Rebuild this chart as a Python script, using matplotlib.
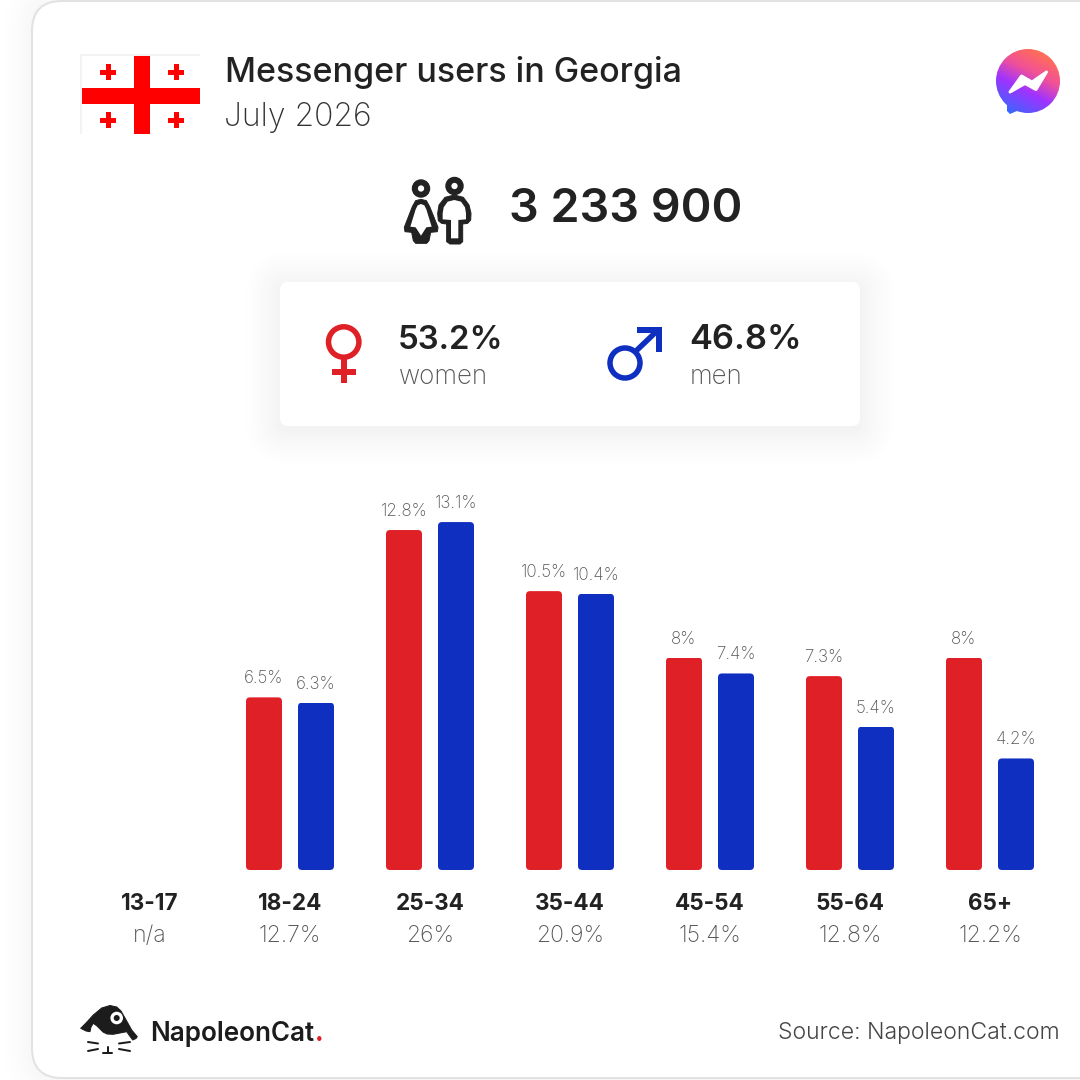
import matplotlib
matplotlib.use("Agg")
import matplotlib.pyplot as plt
import numpy as np
from matplotlib.colors import LinearSegmentedColormap
from matplotlib.patches import Circle, FancyBboxPatch, Polygon, Rectangle

age_groups = ["13-17", "18-24", "25-34", "35-44", "45-54", "55-64", "65+"]
age_shares = ["n/a", "12.7%", "26%", "20.9%", "15.4%", "12.8%", "12.2%"]
women = [np.nan, 6.5, 12.8, 10.5, 8, 7.3, 8]
men = [np.nan, 6.3, 13.1, 10.4, 7.4, 5.4, 4.2]

title = "Messenger users in Georgia"
subtitle = "July 2026"
total_users = "3 233 900"
women_share = "53.2%"
men_share = "46.8%"
source = "Source: NapoleonCat.com"

RED = "#e02027"
BLUE = "#0f2fc0"
DARK = "#222222"
GREY = "#555555"
FLAG_RED = "#ff0000"
FONT = "Inter"

plt.rcParams["font.family"] = [FONT, "DejaVu Sans"]

DPI = 100
PT = 72 / DPI  # one pixel in points


def add_shadow(ax, x0, y0, x1, y1, radius, spread, steps, zorder, dy=0):
    # stacked transparent rounded boxes stand in for a blur, one grey level each
    for i in range(steps, 0, -1):
        grow = spread * (i / steps) ** 1.3
        ax.add_patch(FancyBboxPatch(
            (x0 - grow, y0 - grow + dy), x1 - x0 + 2 * grow, y1 - y0 + 2 * grow,
            boxstyle=f"round,pad=0,rounding_size={radius + grow}",
            fc="black", ec="none", alpha=0.004, zorder=zorder,
        ))


def label(ax, x, y, text, size, weight=400, color=DARK, ha="left"):
    return ax.text(x, y, text, fontsize=size * PT, fontweight=weight, color=color,
                   ha=ha, va="baseline", zorder=5)


def draw_flag(ax):
    ax.add_patch(Rectangle((80, 54), 120, 80, fc="#f3f3f3", ec="none", zorder=3))
    ax.add_patch(Rectangle((82, 56), 118, 78, fc="white", ec="none", zorder=3))
    ax.add_patch(Rectangle((134, 56), 16, 78, fc=FLAG_RED, ec="none", zorder=4))
    ax.add_patch(Rectangle((82, 88), 118, 16, fc=FLAG_RED, ec="none", zorder=4))
    for cx, cy in [(108, 72), (176, 72), (108, 120), (176, 120)]:
        ax.add_patch(Rectangle((cx - 8, cy - 2.5), 16, 5, fc=FLAG_RED, ec="none", zorder=4))
        ax.add_patch(Rectangle((cx - 2.5, cy - 8), 5, 16, fc=FLAG_RED, ec="none", zorder=4))


def draw_logo(ax):
    cmap = LinearSegmentedColormap.from_list(
        "messenger", ["#0a84ff", "#5a55ff", "#a033ff", "#f0509a", "#ff6a5e", "#ff8a4c"])
    n = 160
    gx, gy = np.meshgrid(np.linspace(0, 1, n), np.linspace(0, 1, n))
    grad = (0.35 * gx + 0.65 * (1 - gy))
    grad = (grad - grad.min()) / (grad.max() - grad.min())
    extent = (992, 1064, 116, 46)
    shapes = [
        Circle((1028, 81), 32, transform=ax.transData),
        Polygon([(1007, 100), (1007, 111), (1010, 114), (1024, 108)], closed=True, transform=ax.transData),
    ]
    for shape in shapes:
        im = ax.imshow(grad, cmap=cmap, extent=extent, origin="upper", aspect="auto",
                       zorder=3, interpolation="bilinear")
        im.set_clip_path(shape)
    bolt = [(1010, 92), (1021.5, 76), (1032, 82), (1046.5, 72), (1036, 89.5), (1025, 83.5)]
    ax.add_patch(Polygon(bolt, closed=True, fc="white", ec="white", lw=3 * PT,
                         joinstyle="round", zorder=4))


def draw_people(ax):
    def to_px(points):
        # outlines were traced on a crop at 3x from (395, 170)
        return [(395 + x / 3, 170 + y / 3) for x, y in points]

    woman_outer = [(78, 88), (62, 92), (52, 110), (28, 172), (30, 185), (50, 187), (55, 212), (62, 220),
                   (95, 220), (102, 212), (107, 187), (127, 185), (129, 172), (104, 110), (94, 92)]
    woman_inner = [(78, 102), (68, 106), (62, 118), (46, 170), (62, 172), (78, 197), (94, 172),
                   (110, 170), (94, 118), (88, 106)]
    man_outer = [(178, 75), (150, 82), (132, 105), (128, 130), (130, 152), (140, 160), (155, 162), (155, 215),
                 (165, 222), (195, 222), (203, 215), (203, 162), (218, 160), (227, 150), (228, 130),
                 (222, 105), (205, 82)]
    man_inner = [(178, 90), (158, 95), (146, 112), (143, 130), (143, 148), (168, 150), (168, 205),
                 (190, 205), (190, 150), (213, 148), (213, 130), (210, 112), (198, 95)]
    for outer, inner in [(woman_outer, woman_inner), (man_outer, man_inner)]:
        ax.add_patch(Polygon(to_px(outer), closed=True, fc=DARK, ec=DARK, lw=1 * PT,
                             joinstyle="round", zorder=4))
        ax.add_patch(Polygon(to_px(inner), closed=True, fc="white", ec="none", zorder=5))
    ax.add_patch(Circle((421, 188.5), 6.2, fc="white", ec=DARK, lw=6 * PT, zorder=4))
    ax.add_patch(Circle((454.5, 186), 6.2, fc="white", ec=DARK, lw=6 * PT, zorder=4))


def draw_gender_marks(ax):
    lw = 5.5 * PT
    ax.add_patch(Circle((343.7, 342), 15.2, fc="none", ec=RED, lw=lw, zorder=4))
    ax.add_patch(Rectangle((341, 359), 6, 24, fc=RED, ec="none", zorder=4))
    ax.add_patch(Rectangle((332, 369), 24, 6, fc=RED, ec="none", zorder=4))

    ax.add_patch(Circle((625, 363), 15, fc="none", ec=BLUE, lw=lw, zorder=4))
    ax.plot([636, 658], [351, 330], color=BLUE, lw=lw, solid_capstyle="butt", zorder=4)
    ax.add_patch(Polygon([(637, 327), (662, 327), (662, 352), (656, 352), (656, 333), (637, 333)],
                         closed=True, fc=BLUE, ec="none", zorder=4))


def draw_brand(ax):
    hat = [(80.7, 1028.3), (86, 1023), (93.3, 1015), (101.7, 1008), (110, 1005.5), (116.7, 1007), (121, 1011),
           (125, 1018), (131.7, 1030), (137.3, 1036.7), (136, 1038.5), (132.7, 1040), (129, 1035), (126.7, 1031.7),
           (120, 1033), (113.3, 1034.3), (107, 1034), (103, 1032), (97, 1026), (93.3, 1023.3), (91, 1027),
           (90, 1031.7), (86, 1031)]
    ax.add_patch(Polygon(hat, closed=True, fc="#1c1c1c", ec="#1c1c1c", lw=1 * PT,
                         joinstyle="round", zorder=4))
    ax.add_patch(Circle((116.7, 1018), 6.3, fc="white", ec="none", zorder=5))
    ax.add_patch(Circle((116.7, 1018), 3, fc="#1c1c1c", ec="none", zorder=6))
    whiskers = [((88, 1042), (98, 1043.5)), ((88, 1051), (98, 1049)),
                ((119, 1043.5), (130, 1042)), ((119, 1049), (130, 1051)),
                ((107.5, 1047), (107.5, 1053)), ((103, 1053), (112, 1053))]
    for (x0, y0), (x1, y1) in whiskers:
        ax.plot([x0, x1], [y0, y1], color="#1c1c1c", lw=2 * PT, solid_capstyle="round", zorder=4)
    label(ax, 150, 1041, "NapoleonCat", 26, 600, "#1c1c1c")
    label(ax, 314.5, 1041, ".", 26, 700, RED)


def draw_bars(fig):
    # axes spans px 80..1060 / 470..870, group 0 sits at px 150, groups are 140 px apart
    ax = fig.add_axes([80 / 1080, 1 - 870 / 1080, 980 / 1080, 400 / 1080], facecolor="none", zorder=6)
    ax.set_xlim(-0.5, 6.5)
    ax.set_ylim(0, 400 / 26.56)
    x = np.arange(len(age_groups))
    width = 36 / 140
    offset = 26 / 140
    aspect = 140 / 26.56

    for values, shift, color in [(women, -offset, RED), (men, offset, BLUE)]:
        bars = ax.bar(x + shift, values, width=width, color=color)
        for rect, value in zip(bars, values):
            if np.isnan(value):
                continue
            shape = FancyBboxPatch(
                (rect.get_x(), 0), rect.get_width(), value,
                boxstyle=f"round,pad=0,rounding_size={4 / 140}",
                mutation_aspect=aspect, transform=ax.transData,
            )
            rect.set_clip_path(shape)
            ax.annotate(f"{value:g}%", (rect.get_x() + rect.get_width() / 2, value),
                        xytext=(0, 14 * PT), textcoords="offset points", ha="center", va="baseline",
                        fontsize=17 * PT, fontweight=200, color=GREY, annotation_clip=False)

    for side in ax.spines.values():
        side.set_visible(False)
    ax.set_yticks([])
    ax.set_xticks(x, age_groups, fontsize=22.5 * PT, fontweight=700, color=DARK)
    ax.tick_params(axis="x", length=0, pad=23.5 * PT)
    for pos, share in zip(x, age_shares):
        ax.annotate(share, (pos, 0), xytext=(0, -72 * PT), textcoords="offset points", ha="center",
                    va="baseline", fontsize=23 * PT, fontweight=200, color=GREY, annotation_clip=False)
    return ax


def main():
    fig = plt.figure(figsize=(10.8, 10.8), dpi=DPI, facecolor="white")
    canvas = fig.add_axes([0, 0, 1, 1])
    canvas.set_axis_off()

    add_shadow(canvas, 32, 1, 1140, 1078, 30, 28, 8, zorder=1)
    canvas.add_patch(FancyBboxPatch((32, 1), 1120, 1077, boxstyle="round,pad=0,rounding_size=30",
                                    fc="white", ec="#e2e2e2", lw=2 * PT, zorder=2))

    draw_flag(canvas)
    draw_logo(canvas)
    draw_people(canvas)

    label(canvas, 225, 82, title, 34, 500)
    label(canvas, 224, 126, subtitle, 32, 200, "#333333")
    label(canvas, 509, 222, total_users, 46.7, 600)

    add_shadow(canvas, 280, 282, 860, 426, 8, 34, 12, zorder=2.5, dy=4)
    canvas.add_patch(FancyBboxPatch((280, 282), 580, 144, boxstyle="round,pad=0,rounding_size=8",
                                    fc="white", ec="none", zorder=3))
    draw_gender_marks(canvas)
    label(canvas, 398, 349, women_share, 33, 600)
    label(canvas, 399, 384, "women", 26, 200, GREY)
    label(canvas, 689, 349, men_share, 34.5, 600)
    label(canvas, 690, 384, "men", 26, 200, GREY)

    draw_brand(canvas)
    label(canvas, 1060, 1039, source, 23, 300, "#444444", ha="right")

    # set limits last, imshow would otherwise reset them
    canvas.set_xlim(0, 1080)
    canvas.set_ylim(1080, 0)

    draw_bars(fig)
    fig.savefig("out.png", dpi=DPI)


if __name__ == "__main__":
    main()
